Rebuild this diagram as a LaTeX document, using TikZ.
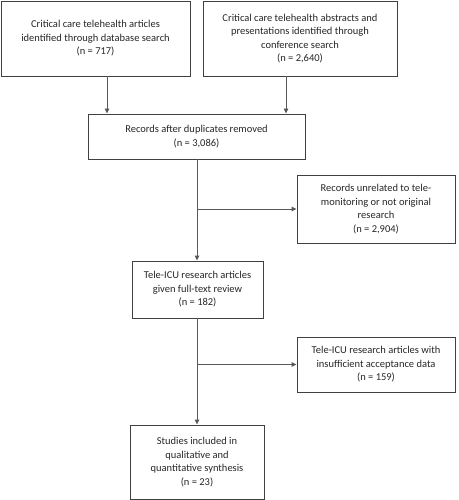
\documentclass[tikz,border=0pt]{standalone}
\usepackage{fontspec}
\setmainfont{Carlito}
\usetikzlibrary{arrows.meta}
\begin{document}
\begin{tikzpicture}[x=1pt,y=-1pt,
  box/.style={draw=black!75,line width=0.9pt,align=center,inner sep=0pt,
    font=\fontsize{10.5}{13.5}\selectfont,text=black!85},
  conn/.style={draw=black!65,line width=0.9pt},
  arr/.style={conn,-{Triangle[length=5pt,width=4.5pt]}}]
\useasboundingbox (0,0) rectangle (458,500);
\node[box,minimum width=189pt,minimum height=75pt] (b1) at (95.5,38.5)
  {Critical care telehealth articles\\identified through database search\\(n = 717)};
\node[box,minimum width=194pt,minimum height=75pt] (b2) at (300,38.5)
  {Critical care telehealth abstracts and\\presentations identified through\\conference search\\(n = 2,640)};
\node[box,minimum width=217pt,minimum height=45pt] (b3) at (196.5,136.5)
  {Records after duplicates removed\\(n = 3,086)};
\node[box,minimum width=158pt,minimum height=68pt] (b4) at (376,209)
  {Records unrelated to tele-\\monitoring or not original\\research\\(n = 2,904)};
\node[box,minimum width=131pt,minimum height=57pt] (b5) at (197.5,289.5)
  {Tele-ICU research articles\\given full-text review\\(n = 182)};
\node[box,minimum width=158pt,minimum height=55pt] (b6) at (376,364.5)
  {Tele-ICU research articles with\\insufficient acceptance data\\(n = 159)};
\node[box,minimum width=134pt,minimum height=74pt] (b7) at (197,462)
  {Studies included in\\qualitative and\\quantitative synthesis\\(n = 23)};
\coordinate (x1) at (107,0);
\coordinate (x2) at (286,0);
\coordinate (xm) at (197,0);
\draw[arr] (x1 |- b1.south) -- (x1 |- b3.north);
\draw[arr] (x2 |- b2.south) -- (x2 |- b3.north);
\draw[arr] (xm |- b3.south) -- (xm |- b5.north);
\draw[arr] (xm |- b4.west) -- (b4.west);
\draw[arr] (xm |- b5.south) -- (xm |- b7.north);
\draw[arr] (xm |- b6.west) -- (b6.west);
\end{tikzpicture}
\end{document}
